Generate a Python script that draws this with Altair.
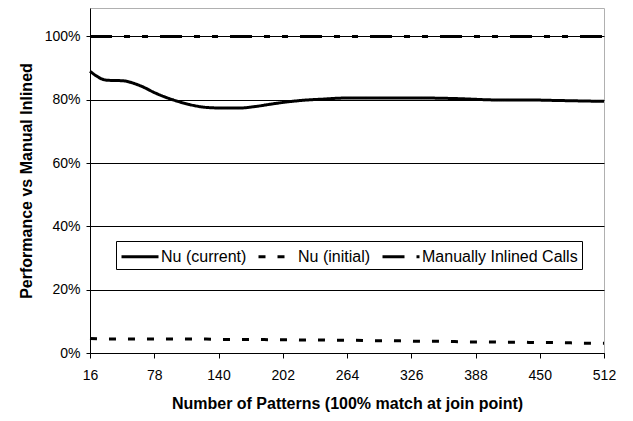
import altair as alt
import pandas as pd

patterns = list(range(16, 513, 16))
nu_current = [0.89, 0.862, 0.86, 0.845, 0.82, 0.80, 0.785, 0.776, 0.774, 0.774, 0.779, 0.787,
              0.794, 0.799, 0.802, 0.805, 0.806, 0.806, 0.806, 0.806, 0.806, 0.805, 0.804, 0.802,
              0.800, 0.799, 0.799, 0.799, 0.798, 0.797, 0.796, 0.795]
nu_initial = [0.046, 0.044, 0.044, 0.044, 0.044, 0.044, 0.044, 0.044, 0.043, 0.043, 0.043, 0.042,
              0.042, 0.041, 0.041, 0.040, 0.040, 0.039, 0.039, 0.038, 0.037, 0.037, 0.036, 0.035,
              0.035, 0.034, 0.034, 0.033, 0.033, 0.032, 0.031, 0.031]
manual = [1.0] * len(patterns)

series_names = ["Nu (current)", "Nu (initial)", "Manually Inlined Calls"]
x_ticks = [16, 78, 140, 202, 264, 326, 388, 450, 512]
y_ticks = [0, 0.2, 0.4, 0.6, 0.8, 1.0]

rows = []
for name, vals in zip(series_names, [nu_current, nu_initial, manual]):
    for p, v in zip(patterns, vals):
        rows.append({"patterns": p, "value": v, "series": name})
df = pd.DataFrame(rows)

FONT = "Liberation Sans"

chart = alt.Chart(df).mark_line(color="black", strokeWidth=3, interpolate="monotone").encode(
    x=alt.X("patterns:Q",
            scale=alt.Scale(domain=[16, 512], nice=False, zero=False),
            axis=alt.Axis(values=x_ticks, grid=False, title="Number of Patterns (100%  match at join point)",
                          tickSize=5, labelPadding=10, titlePadding=13, labelFlush=False)),
    y=alt.Y("value:Q",
            scale=alt.Scale(domain=[0, 1.09], nice=False),
            axis=alt.Axis(values=y_ticks, format=".0%", title="Performance vs Manual Inlined",
                          tickSize=4, labelPadding=6, titlePadding=10, gridColor="black", gridWidth=1,
                          labelFlush=False)),
    strokeDash=alt.StrokeDash("series:N",
                              scale=alt.Scale(domain=series_names,
                                              range=[[1, 0], [7, 12], [22, 12, 6, 12, 6, 12]]),
                              legend=alt.Legend(title=None, orient="none", legendX=26, legendY=233,
                                                direction="horizontal", columns=3,
                                                symbolType="M-1,0H2.7", symbolSize=400,
                                                symbolStrokeWidth=3, symbolStrokeColor="black",
                                                labelFontSize=16, labelFont=FONT, labelColor="black",
                                                strokeColor="black", fillColor="white",
                                                padding=4, columnPadding=5, labelOffset=18,
                                                labelLimit=300)),
    detail="series:N",
).properties(
    width=514, height=345,
    autosize=alt.AutoSizeParams(type="none"),
    padding={"left": 82, "top": 0, "right": 15, "bottom": 60},
).configure_view(
    stroke="#b0b0b0", strokeWidth=1
).configure_axis(
    labelFont=FONT, labelFontSize=14, labelColor="black",
    titleFont=FONT, titleFontSize=16, titleFontWeight="bold", titleColor="black",
    domainColor="black", tickColor="black",
)

chart.save("out.html", embed_options={"renderer": "svg", "actions": False})
